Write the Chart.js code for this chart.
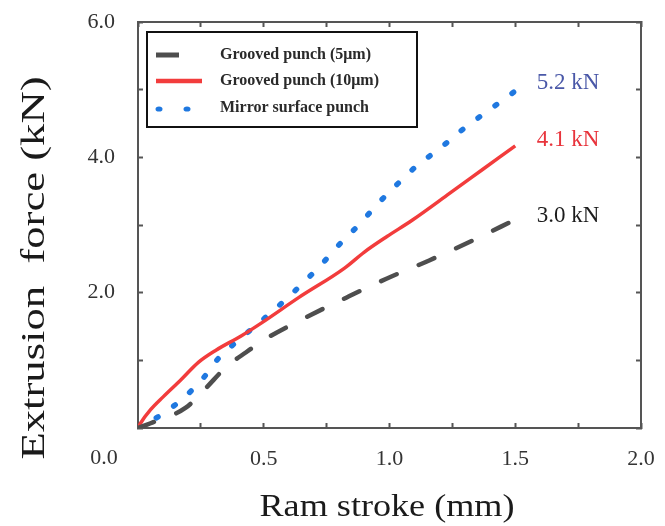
<!DOCTYPE html>
<html>
<head>
<meta charset="utf-8">
<script src="https://cdn.jsdelivr.net/npm/chart.js@4.4.0/dist/chart.umd.min.js"></script>
<style>
  html, body { margin: 0; padding: 0; background: #fff; }
  #wrap { width: 665px; height: 526px; }
</style>
</head>
<body>
<div id="wrap"><canvas id="forceChart"></canvas></div>
<script>
let serif = '"Liberation Serif", "Times New Roman", serif';

// Daten
let seriesNames = ['Grooved punch (5μm)', 'Grooved punch (10μm)', 'Mirror surface punch'];
let stroke5 = [0, 0.05, 0.19, 0.27, 0.35, 0.43, 0.50, 0.66, 0.83, 0.99, 1.16, 1.33, 1.50];
let force5 = [0, 0.07, 0.30, 0.59, 0.90, 1.12, 1.30, 1.62, 1.93, 2.21, 2.48, 2.77, 3.08];
let stroke10 = [0, 0.01, 0.05, 0.10, 0.17, 0.24, 0.31, 0.41, 0.49, 0.64, 0.82, 0.90, 0.99, 1.09, 1.24, 1.37, 1.50];
let force10 = [0, 0.07, 0.27, 0.46, 0.71, 0.97, 1.15, 1.36, 1.55, 1.93, 2.36, 2.60, 2.83, 3.07, 3.47, 3.82, 4.17];
let strokeMirror = [0, 0.09, 0.18, 0.26, 0.32, 0.41, 0.49, 0.57, 0.65, 0.73, 0.80, 0.88, 0.95, 1.03, 1.11, 1.20, 1.28, 1.37, 1.46, 1.50];
let forceMirror = [0, 0.19, 0.44, 0.74, 1.03, 1.33, 1.58, 1.84, 2.12, 2.42, 2.71, 3.01, 3.30, 3.60, 3.88, 4.13, 4.38, 4.63, 4.87, 4.98];
let endLabels = ['5.2 kN', '4.1 kN', '3.0 kN'];
let endLabelX = 1.585;
let endLabelY = [5.10, 4.25, 3.13];
let xTitle = 'Ram stroke (mm)';
let yTitle = 'Extrusion  force (kN)';

let gray = '#4e4e4e', red = '#f23c3c', blue = '#1f78e0';
let labelColors = ['#4a58a8', '#e8343c', '#1c1c1c'];
let frame = '#555555';

function toPoints(xs, ys) {
  return xs.map((x, i) => ({ x: x, y: ys[i] }));
}

// Achsentitel leicht gestreckt zeichnen, wie im Original
function stretchedText(ctx, text, cx, cy, size, targetWidth, rotate) {
  ctx.save();
  ctx.font = size + 'px ' + serif;
  let w = ctx.measureText(text).width;
  ctx.translate(cx, cy);
  if (rotate) ctx.rotate(-Math.PI / 2);
  ctx.scale(targetWidth / w, 1);
  ctx.textAlign = 'center';
  ctx.textBaseline = 'middle';
  ctx.fillStyle = '#1a1a1a';
  ctx.fillText(text, 0, 0);
  ctx.restore();
}

let decorPlugin = {
  id: 'decor',
  afterDraw(chart) {
    let { ctx, scales: { x, y } } = chart;
    // Titel
    stretchedText(ctx, xTitle, 387, 508, 31, 255, false);
    stretchedText(ctx, yTitle, 35, 268, 34, 383, true);

    // Einzelnes 0.0 unten links
    ctx.save();
    ctx.font = '22px ' + serif;
    ctx.fillStyle = '#333';
    ctx.textAlign = 'center';
    ctx.textBaseline = 'middle';
    ctx.fillText('0.0', 104, 458);

    // Endwerte rechts
    ctx.font = '23px ' + serif;
    ctx.textAlign = 'left';
    endLabels.forEach((t, i) => {
      ctx.fillStyle = labelColors[i];
      ctx.fillText(t, x.getPixelForValue(endLabelX), y.getPixelForValue(endLabelY[i]));
    });

    // Legende mit Rahmen
    ctx.lineWidth = 2;
    ctx.strokeStyle = '#111';
    ctx.strokeRect(147, 32, 270, 95);
    ctx.lineCap = 'butt';
    ctx.strokeStyle = gray;
    ctx.lineWidth = 5;
    ctx.beginPath(); ctx.moveTo(156, 55); ctx.lineTo(179, 55); ctx.stroke();
    ctx.strokeStyle = red;
    ctx.lineWidth = 4.5;
    ctx.beginPath(); ctx.moveTo(156, 81); ctx.lineTo(202, 81); ctx.stroke();
    ctx.fillStyle = blue;
    [159, 187].forEach(px => {
      ctx.beginPath(); ctx.ellipse(px, 109, 3.5, 2.6, 0, 0, Math.PI * 2); ctx.fill();
    });
    ctx.font = 'bold 16px ' + serif;
    ctx.fillStyle = '#2a2a2a';
    ctx.textAlign = 'left';
    [55, 81, 108].forEach((py, i) => ctx.fillText(seriesNames[i], 220, py));
    ctx.restore();
  }
};

let tickGrid = { drawOnChartArea: false, tickLength: -5, color: frame, tickWidth: 2 };
let frameBorder = { color: frame, width: 2 };

// Zusatzabstände der Achsen entfernen, damit die Zeichenfläche exakt sitzt
function noPadX(s, h) { s.height = h; s.paddingLeft = 0; s.paddingRight = 0; }
function noPadY(s, w) { s.width = w; s.paddingTop = 0; s.paddingBottom = 0; }

let config = {
  type: 'line',
  data: {
    datasets: [
      { label: seriesNames[0], data: toPoints(stroke5, force5), borderColor: gray, borderWidth: 4.5,
        borderDash: [17, 24], borderCapStyle: 'round', pointRadius: 0, cubicInterpolationMode: 'monotone', fill: false },
      { label: seriesNames[1], data: toPoints(stroke10, force10), borderColor: red, borderWidth: 3.5,
        pointRadius: 0, cubicInterpolationMode: 'monotone', fill: false },
      { label: seriesNames[2], data: toPoints(strokeMirror, forceMirror), borderColor: blue, borderWidth: 5.5,
        borderDash: [2, 19], borderCapStyle: 'round', pointRadius: 0, cubicInterpolationMode: 'monotone', fill: false }
    ]
  },
  options: {
    responsive: true,
    maintainAspectRatio: false,
    animation: false,
    layout: { padding: { left: 0, right: 24, top: 22, bottom: 0 } },
    plugins: { legend: { display: false }, tooltip: { enabled: false } },
    scales: {
      x: {
        type: 'linear', position: 'bottom', min: 0, max: 2,
        ticks: { stepSize: 0.25, autoSkip: false, maxRotation: 0, padding: 23, color: '#333',
          font: { family: serif, size: 22 },
          callback: v => (v % 0.5 === 0 && v !== 0) ? v.toFixed(1) : '' },
        grid: tickGrid, border: frameBorder,
        afterFit: s => noPadX(s, 98)
      },
      xTop: {
        type: 'linear', position: 'top', min: 0, max: 2,
        ticks: { stepSize: 0.25, display: false },
        grid: tickGrid, border: frameBorder,
        afterFit: s => noPadX(s, 0)
      },
      y: {
        type: 'linear', position: 'left', min: 0, max: 6,
        ticks: { stepSize: 1, autoSkip: false, padding: 28, color: '#333',
          font: { family: serif, size: 22 },
          callback: v => (v % 2 === 0 && v !== 0) ? v.toFixed(1) : '' },
        grid: tickGrid, border: frameBorder,
        afterFit: s => noPadY(s, 138)
      },
      yRight: {
        type: 'linear', position: 'right', min: 0, max: 6,
        ticks: { stepSize: 1, display: false },
        grid: tickGrid, border: frameBorder,
        afterFit: s => noPadY(s, 0)
      }
    }
  },
  plugins: [decorPlugin]
};

let ctx = document.getElementById('forceChart').getContext('2d');
let forceChart = new Chart(ctx, config);
</script>
</body>
</html>
